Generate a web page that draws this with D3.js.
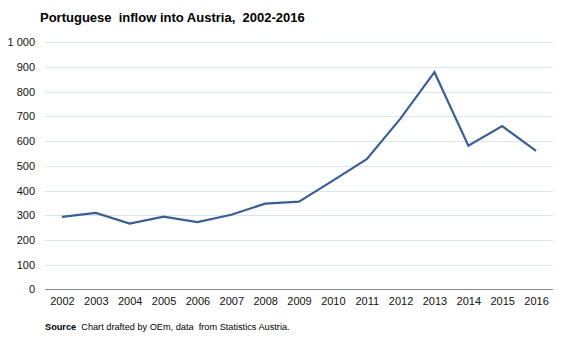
<!DOCTYPE html>
<html><head><meta charset="utf-8">
<script src="https://cdn.jsdelivr.net/npm/d3@7"></script>
<style>body{margin:0;background:#fff;}svg{display:block;font-family:"Liberation Sans",Arial,sans-serif;}</style>
</head><body>
<svg id="c" width="573" height="351"></svg>
<script>
const years = ["2002","2003","2004","2005","2006","2007","2008","2009","2010","2011","2012","2013","2014","2015","2016"];
const inflow = [293,309,266,294,272,302,347,355,440,527,692,879,581,661,560];
const yTicks = [0,100,200,300,400,500,600,700,800,900,1000];
const yTickLabels = ["0","100","200","300","400","500","600","700","800","900","1 000"];

(function(){
const svg = d3.select("#c");
const mLeft = 45, mRight = 553, mTop = 42.3, mBottom = 289.3;
const x = d3.scalePoint().domain(years).range([mLeft, mRight]).padding(0.5);
const y = d3.scaleLinear().domain([0,1000]).range([mBottom, mTop]);

svg.append("text").attr("x",40).attr("y",22).attr("font-size",13).attr("font-weight","bold")
  .attr("fill","#000").style("white-space","pre")
  .text("Portuguese  inflow into Austria,  2002-2016");

const grid = svg.append("g");
grid.selectAll("line").data(yTicks.filter(d=>d>0)).join("line")
  .attr("x1",mLeft).attr("x2",mRight)
  .attr("y1",d=>Math.round(y(d))+0.5).attr("y2",d=>Math.round(y(d))+0.5)
  .attr("stroke","#dce5ef").attr("stroke-width",1);

const yAxis = d3.axisLeft(y).tickValues(yTicks).tickSize(0).tickPadding(10)
  .tickFormat((d,i)=>yTickLabels[i]);
const ya = svg.append("g").attr("transform",`translate(${mLeft},0)`).call(yAxis);
ya.select(".domain").remove();
ya.selectAll("text").attr("font-size",11).attr("fill","#111").attr("font-family","Liberation Sans, Arial, sans-serif");

const xAxis = d3.axisBottom(x).tickSize(0).tickPadding(8);
const xa = svg.append("g").attr("transform",`translate(0,${Math.round(mBottom)+0.5})`).call(xAxis);
xa.select(".domain").attr("stroke","#888").attr("d",`M${mLeft},0H${mRight}`);
xa.selectAll("text").attr("font-size",11).attr("fill","#111").attr("font-family","Liberation Sans, Arial, sans-serif");

const line = d3.line().x((d,i)=>x(years[i])).y(d=>y(d));
svg.append("path").datum(inflow).attr("d",line).attr("fill","none")
  .attr("stroke","#3a5f92").attr("stroke-width",2.2).attr("stroke-linejoin","miter");

const src = svg.append("text").attr("x",45).attr("y",330).attr("font-size",9.2).attr("fill","#000")
  .style("white-space","pre");
src.append("tspan").attr("font-weight","bold").text("Source");
src.append("tspan").text("  Chart drafted by OEm, data  from Statistics Austria.");
})();
</script>
</body></html>
